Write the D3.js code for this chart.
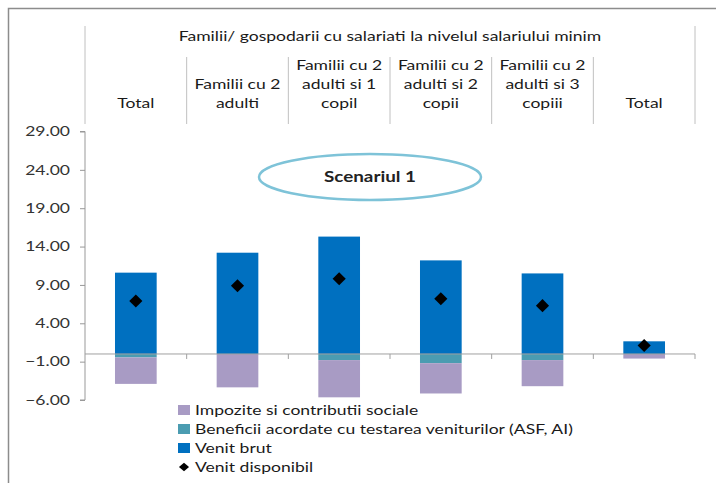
<!DOCTYPE html>
<html>
<head>
<meta charset="utf-8">
<script src="https://cdn.jsdelivr.net/npm/d3@7"></script>
<style>
  body { margin: 0; background: #fff; }
  svg { display: block; font-family: Lato, "Open Sans", sans-serif; }
</style>
</head>
<body>
<svg id="chart" width="716" height="483"></svg>
<script>
// categories (header label lines)
const categories = [
    ["Total"],
    ["Familii cu 2", "adulti"],
    ["Familii cu 2", "adulti si 1", "copil"],
    ["Familii cu 2", "adulti si 2", "copii"],
    ["Familii cu 2", "adulti si 3", "copiii"],
    ["Total"]
];
const groupTitle = "Familii/ gospodarii cu salariati la nivelul salariului minim";
const scenario = "Scenariul 1";

// series values
const venitBrut = [10.6, 13.2, 15.3, 12.2, 10.5, 1.65];
const beneficii = [-0.45, 0, -0.8, -1.2, -0.8, 0];
const impozite = [-3.45, -4.35, -4.85, -3.95, -3.4, -0.6];
const venitDisponibil = [6.9, 8.9, 9.8, 7.2, 6.3, 1.1];

const yTicks = [29, 24, 19, 14, 9, 4, -1, -6];
const legendItems = [
    {name: "Impozite si contributii sociale", color: "#a89bc4", type: "square"},
    {name: "Beneficii acordate cu testarea veniturilor (ASF, AI)", color: "#4b9cb1", type: "square"},
    {name: "Venit brut", color: "#0070c0", type: "square"},
    {name: "Venit disponibil", color: "#000", type: "diamond"}
];

// the original picture is a little stretched sideways
const sx = 1.3;
const fs = 13.5;
const textColor = '#1a1a1a';

const svg = d3.select('#chart');

// outer frame (top and left edges)
svg.append('path')
    .attr('d', 'M8.5,483 L8.5,8.5 L716,8.5')
    .attr('fill', 'none')
    .attr('stroke', '#8c8c8c')
    .attr('stroke-width', 1.5);

const x = d3.scaleBand()
    .domain(d3.range(categories.length))
    .range([85, 695])
    .padding(0);
const y = d3.scaleLinear()
    .domain([-6, 29])
    .range([400, 131.5]);

const barW = x.bandwidth() * 0.41;

// header table
const header = svg.append('g');
const edges = d3.range(categories.length + 1).map(i => i < categories.length ? x(i) : x(categories.length - 1) + x.bandwidth());
header.selectAll('line.col')
    .data(edges)
    .enter()
    .append('line')
    .attr('class', 'col')
    .attr('x1', d => d).attr('x2', d => d)
    .attr('y1', (d, i) => (i === 0 || i === edges.length - 1) ? 26 : 57)
    .attr('y2', 124)
    .attr('stroke', '#c0c0c0')
    .attr('stroke-width', 1);
header.append('text')
    .attr('transform', 'translate(' + ((x(1) + x(4) + x.bandwidth()) / 2) + ',41) scale(' + sx + ',1)')
    .attr('text-anchor', 'middle')
    .attr('font-size', fs)
    .attr('fill', textColor)
    .text(groupTitle);
categories.forEach((lines, i) => {
    let t = header.append('text')
        .attr('transform', 'translate(' + (x(i) + x.bandwidth() / 2) + ',0) scale(' + sx + ',1)')
        .attr('text-anchor', 'middle')
        .attr('font-size', fs)
        .attr('fill', textColor);
    lines.forEach((l, j) => {
        t.append('tspan')
            .attr('x', 0)
            .attr('y', 108 - (lines.length - 1 - j) * 19)
            .text(l);
    });
});

// y axis
const yAxis = svg.append('g')
    .attr('transform', 'translate(85,0)')
    .call(d3.axisLeft(y).tickValues(yTicks).tickSize(5).tickPadding(10).tickFormat(d3.format('.2f')));
yAxis.select('.domain').attr('stroke', '#999').attr('d', 'M-5,' + y(29) + 'H0V' + y(-6) + 'H-5');
yAxis.selectAll('.tick line').attr('stroke', '#999');
yAxis.selectAll('.tick text')
    .attr('x', -15 / sx)
    .attr('transform', 'scale(' + sx + ',1)')
    .attr('font-size', fs)
    .attr('font-family', 'Lato, sans-serif')
    .attr('fill', '#333');

// bars
const plot = svg.append('g');
const stacks = [
    {vals: venitBrut, base: () => 0, color: legendItems[2].color},
    {vals: beneficii, base: () => 0, color: legendItems[1].color},
    {vals: impozite, base: i => beneficii[i], color: legendItems[0].color}
];
stacks.forEach(s => {
    plot.selectAll(null)
        .data(s.vals)
        .enter()
        .append('rect')
        .attr('x', (d, i) => x(i) + (x.bandwidth() - barW) / 2)
        .attr('width', barW)
        .attr('y', (d, i) => y(Math.max(s.base(i), s.base(i) + d)))
        .attr('height', (d, i) => Math.abs(y(s.base(i) + d) - y(s.base(i))))
        .attr('fill', s.color);
});

// zero line with category ticks
const xAxis = svg.append('g')
    .attr('transform', 'translate(0,' + y(0) + ')');
xAxis.append('line')
    .attr('x1', 85).attr('x2', 695)
    .attr('stroke', '#a0a0a0');
xAxis.selectAll('line.tk')
    .data(edges.slice(1))
    .enter()
    .append('line')
    .attr('class', 'tk')
    .attr('x1', d => d).attr('x2', d => d)
    .attr('y1', 0).attr('y2', 5)
    .attr('stroke', '#a0a0a0');

// venit disponibil markers
const diamond = d3.symbol().type(d3.symbolDiamond2).size(110);
plot.selectAll('path.pt')
    .data(venitDisponibil)
    .enter()
    .append('path')
    .attr('class', 'pt')
    .attr('d', diamond)
    .attr('transform', (d, i) => 'translate(' + (x(i) + x.bandwidth() / 2) + ',' + y(d) + ')')
    .attr('fill', '#000');

// scenario label
svg.append('ellipse')
    .attr('cx', 370).attr('cy', 177)
    .attr('rx', 111).attr('ry', 23)
    .attr('fill', '#fff')
    .attr('stroke', '#7ec3d8')
    .attr('stroke-width', 2.5);
svg.append('text')
    .attr('transform', 'translate(370,182) scale(' + sx + ',1)')
    .attr('text-anchor', 'middle')
    .attr('font-size', 14.5)
    .attr('font-weight', 'bold')
    .attr('fill', '#222')
    .text(scenario);

// legend
const legend = svg.append('g')
    .attr('transform', 'translate(178,410)');
const rows = legend.selectAll('g')
    .data(legendItems)
    .enter()
    .append('g')
    .attr('transform', (d, i) => 'translate(0,' + (i * 19) + ')');
rows.filter(d => d.type === 'square')
    .append('rect')
    .attr('x', 0).attr('y', -5)
    .attr('width', 12).attr('height', 10)
    .attr('fill', d => d.color);
rows.filter(d => d.type === 'diamond')
    .append('path')
    .attr('d', d3.symbol().type(d3.symbolDiamond2).size(45))
    .attr('transform', 'translate(6,0) scale(1.2,1)')
    .attr('fill', '#000');
rows.append('text')
    .attr('transform', 'translate(17,0) scale(' + sx + ',1)')
    .attr('dy', '0.35em')
    .attr('font-size', fs)
    .attr('fill', textColor)
    .text(d => d.name);
</script>
</body>
</html>
